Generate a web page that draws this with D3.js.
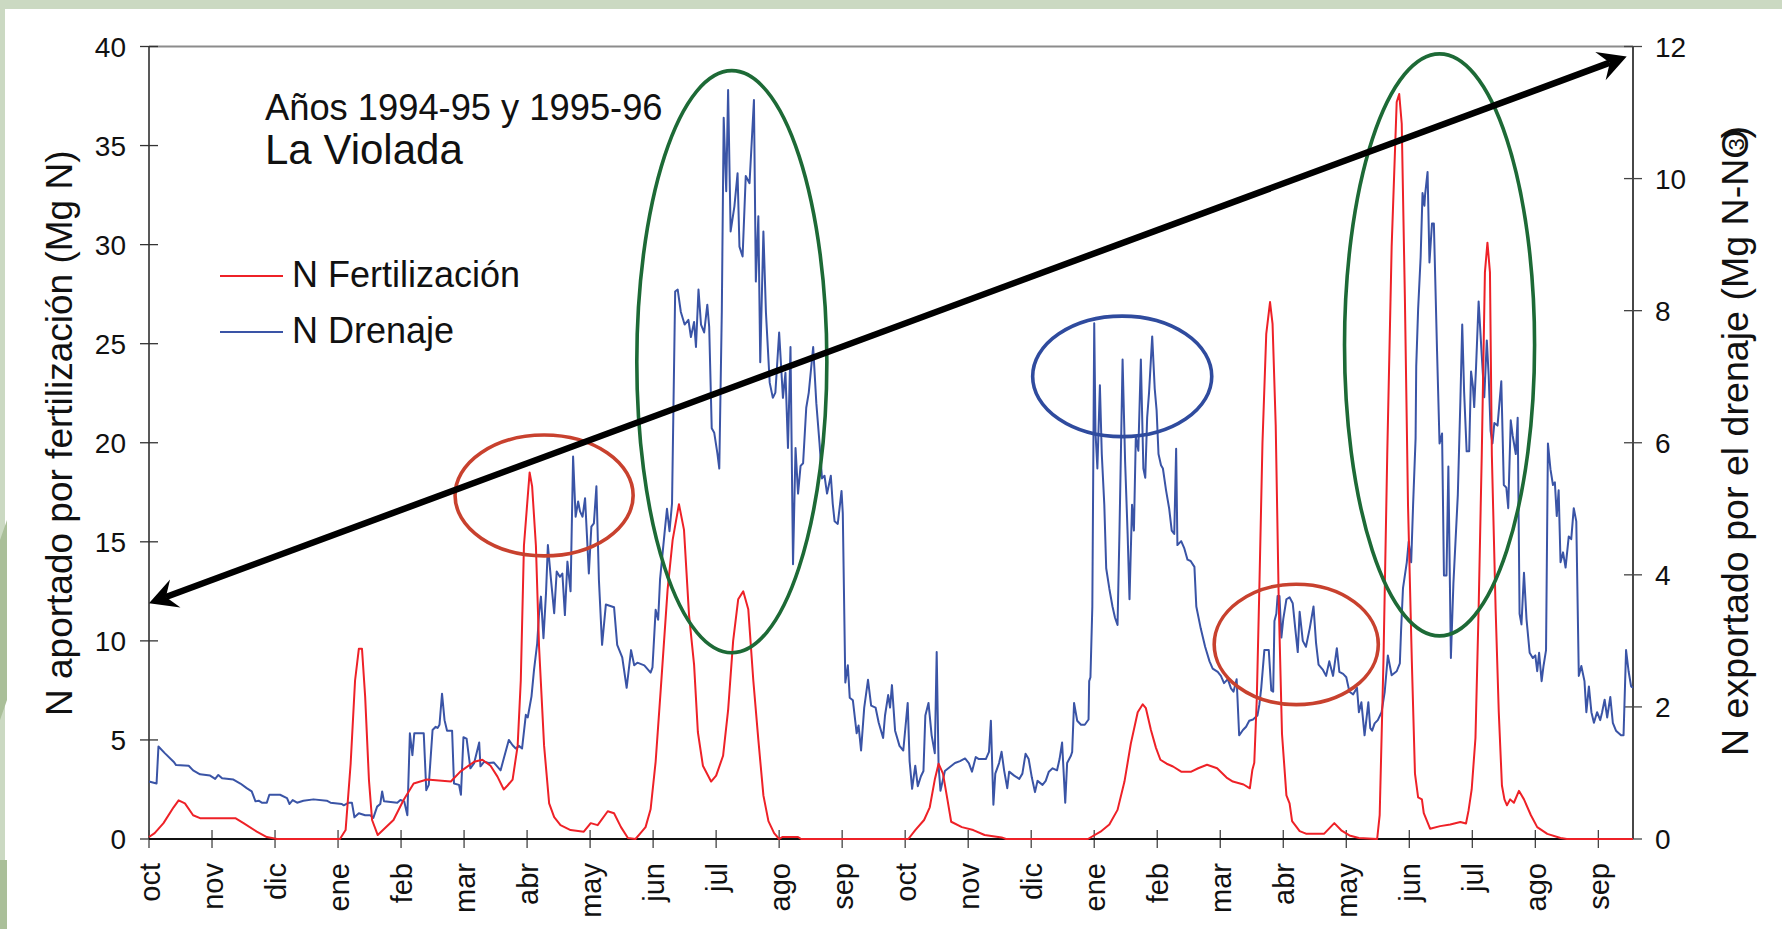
<!DOCTYPE html>
<html><head><meta charset="utf-8">
<script src="https://cdn.jsdelivr.net/npm/d3@7/dist/d3.min.js"></script>
<style>
html,body{margin:0;padding:0;background:#fff;}
svg{display:block;font-family:"Liberation Sans",Arial,Helvetica,sans-serif;}
</style></head>
<body><svg id="c" width="1782" height="929"></svg>
<script>
// ---------- data ----------
const monthNames = ['oct','nov','dic','ene','feb','mar','abr','may','jun','jul','ago','sep'];
const monthTicks = d3.range(24);                 // month index from Oct 1994
const leftTicks = [0,5,10,15,20,25,30,35,40];
const rightTicks = [0,2,4,6,8,10,12];
const titleLine1 = 'Años 1994-95 y 1995-96';
const titleLine2 = 'La Violada';
const seriesNames = ['N Fertilización','N Drenaje'];

// [month index, Mg N]  (left axis)
const fertilizacion = [
[0,0.1],[0.09,0.3],[0.23,0.8],[0.39,1.6],[0.47,1.95],[0.57,1.8],[0.7,1.2],[0.81,1.05],[1.37,1.05],[1.5,0.8],[1.71,0.37],[1.87,0.1],[2.03,0],[3.03,0],[3.12,0.45],[3.2,3.8],[3.27,8.0],[3.33,9.6],[3.38,9.6],[3.43,7.2],[3.49,3.0],[3.54,0.96],[3.63,0.2],[3.73,0.5],[3.88,0.96],[4.04,1.97],[4.2,2.8],[4.41,3.0],[4.79,2.9],[4.94,3.4],[5.16,3.9],[5.29,4.0],[5.42,3.7],[5.53,3.15],[5.63,2.5],[5.69,2.7],[5.77,3.0],[5.85,4.7],[5.9,8.0],[5.95,14.8],[6.04,18.5],[6.08,17.8],[6.14,14.8],[6.19,9.7],[6.27,4.7],[6.35,1.8],[6.43,1.1],[6.53,0.7],[6.69,0.45],[6.9,0.37],[7.01,0.8],[7.12,0.7],[7.28,1.4],[7.38,1.3],[7.49,0.6],[7.6,0.05],[7.72,0],[7.8,0.3],[7.88,0.6],[7.96,1.5],[8.04,3.9],[8.12,7.5],[8.23,12.6],[8.31,15.1],[8.41,16.9],[8.49,15.6],[8.57,11.3],[8.65,8.8],[8.71,5.4],[8.79,3.7],[8.92,2.9],[9.0,3.2],[9.11,4.2],[9.19,6.5],[9.27,10],[9.35,12.1],[9.43,12.5],[9.51,11.6],[9.59,8.0],[9.67,5.0],[9.75,2.2],[9.83,0.9],[9.92,0.3],[10.0,0],[10.05,0.1],[10.3,0.1],[10.35,0],
[12.05,0],[12.16,0.45],[12.3,0.96],[12.39,1.6],[12.47,3.0],[12.53,3.8],[12.6,3.3],[12.67,2.0],[12.73,0.87],[12.9,0.6],[13.08,0.45],[13.26,0.2],[13.53,0.08],[13.6,0],[14.9,0],[15.1,0.37],[15.24,0.73],[15.37,1.47],[15.48,2.9],[15.58,4.8],[15.69,6.4],[15.77,6.8],[15.82,6.6],[15.9,5.5],[15.98,4.6],[16.05,4.0],[16.15,3.8],[16.25,3.66],[16.38,3.4],[16.54,3.4],[16.65,3.57],[16.79,3.75],[16.95,3.57],[17.1,3.1],[17.2,2.9],[17.37,2.75],[17.47,2.56],[17.51,3.5],[17.54,3.85],[17.58,7.1],[17.62,12.6],[17.67,20],[17.73,25.5],[17.79,27.1],[17.83,26],[17.88,20.9],[17.93,11.7],[17.98,5.3],[18.05,2.2],[18.1,1.8],[18.14,0.9],[18.26,0.4],[18.36,0.27],[18.65,0.27],[18.81,0.8],[18.92,0.44],[19.05,0.18],[19.2,0.05],[19.49,0],[19.53,1.2],[19.59,9],[19.65,19.4],[19.72,29.9],[19.8,37.2],[19.84,37.6],[19.88,36.1],[19.93,27.3],[19.98,16.8],[20.04,9],[20.09,3.3],[20.14,2.1],[20.2,2.0],[20.23,1.3],[20.33,0.52],[20.49,0.65],[20.65,0.73],[20.81,0.86],[20.9,0.78],[20.94,1.43],[20.99,2.5],[21.05,5.1],[21.1,11.6],[21.15,19.4],[21.2,28.6],[21.24,30.1],[21.28,28.6],[21.31,19.4],[21.37,11.6],[21.42,6.4],[21.47,2.7],[21.51,2.0],[21.55,1.7],[21.6,2.0],[21.66,1.83],[21.74,2.43],[21.82,2.0],[21.93,1.2],[22.03,0.6],[22.19,0.26],[22.4,0.05],[22.5,0],[23.55,0]
];

// [month index, Mg N-NO3-]  (right axis)
const drenaje = [
[0.0,0.87],[0.12,0.84],[0.15,1.40],[0.25,1.30],[0.39,1.17],[0.43,1.12],[0.63,1.11],[0.7,1.04],[0.81,0.98],[0.97,0.96],[1.05,0.91],[1.1,0.97],[1.16,0.92],[1.34,0.9],[1.45,0.84],[1.55,0.77],[1.63,0.72],[1.69,0.57],[1.74,0.58],[1.79,0.55],[1.87,0.55],[1.91,0.67],[2.08,0.67],[2.19,0.62],[2.23,0.53],[2.28,0.59],[2.35,0.55],[2.45,0.58],[2.61,0.6],[2.82,0.58],[2.88,0.55],[3.06,0.53],[3.09,0.51],[3.17,0.55],[3.22,0.55],[3.26,0.33],[3.33,0.39],[3.43,0.36],[3.51,0.36],[3.56,0.32],[3.62,0.49],[3.67,0.53],[3.7,0.72],[3.73,0.57],[3.94,0.55],[3.99,0.59],[4.05,0.57],[4.1,0.36],[4.14,1.6],[4.18,1.27],[4.21,1.6],[4.36,1.6],[4.4,0.74],[4.44,0.82],[4.5,1.65],[4.55,1.7],[4.58,1.68],[4.61,1.73],[4.65,2.2],[4.69,1.8],[4.73,1.64],[4.81,1.64],[4.84,0.84],[4.92,0.82],[4.95,0.67],[4.99,1.54],[5.04,1.52],[5.1,1.07],[5.16,1.15],[5.24,1.46],[5.26,1.1],[5.32,1.17],[5.39,1.15],[5.47,1.16],[5.58,1.04],[5.63,1.22],[5.71,1.5],[5.77,1.42],[5.82,1.37],[5.87,1.41],[5.92,1.37],[5.98,1.88],[6.01,1.84],[6.07,2.16],[6.11,2.56],[6.16,2.96],[6.19,3.42],[6.22,3.67],[6.26,3.04],[6.3,3.72],[6.33,4.45],[6.38,3.92],[6.43,3.42],[6.47,4.05],[6.52,3.97],[6.56,4.02],[6.6,3.39],[6.64,4.2],[6.69,3.75],[6.73,5.79],[6.77,4.88],[6.81,5.11],[6.84,4.96],[6.88,4.88],[6.92,5.16],[6.98,4.02],[7.02,4.73],[7.06,4.78],[7.1,5.34],[7.14,3.92],[7.19,2.94],[7.25,3.55],[7.38,3.51],[7.43,2.94],[7.51,2.75],[7.58,2.29],[7.65,2.86],[7.7,2.63],[7.75,2.67],[7.86,2.63],[7.96,2.52],[7.99,2.6],[8.04,3.47],[8.08,3.32],[8.11,3.93],[8.18,4.62],[8.22,5.0],[8.26,4.66],[8.3,5.08],[8.35,8.29],[8.39,8.32],[8.44,7.98],[8.5,7.79],[8.56,7.86],[8.6,7.6],[8.65,7.83],[8.68,7.45],[8.72,8.32],[8.76,7.79],[8.81,7.67],[8.86,8.09],[8.89,7.75],[8.93,6.22],[8.97,6.15],[9.02,5.84],[9.05,5.61],[9.09,7.98],[9.12,10.92],[9.16,9.81],[9.19,11.34],[9.23,9.2],[9.29,9.58],[9.34,10.08],[9.37,8.97],[9.42,8.82],[9.47,10.04],[9.53,9.93],[9.6,11.19],[9.63,8.44],[9.67,9.43],[9.7,7.22],[9.75,9.2],[9.79,7.98],[9.85,6.91],[9.9,6.68],[9.94,6.76],[10.0,7.67],[10.06,6.68],[10.1,7.06],[10.14,5.92],[10.18,7.45],[10.22,4.16],[10.26,5.92],[10.3,5.23],[10.34,5.65],[10.38,5.69],[10.43,6.53],[10.47,6.76],[10.54,7.45],[10.59,6.6],[10.64,6.0],[10.68,5.46],[10.72,5.5],[10.76,5.23],[10.82,5.5],[10.85,5.08],[10.88,4.81],[10.93,4.77],[10.99,5.27],[11.01,4.93],[11.05,2.37],[11.09,2.63],[11.12,2.14],[11.17,2.1],[11.23,1.6],[11.26,1.72],[11.3,1.34],[11.35,1.99],[11.41,2.41],[11.46,2.02],[11.53,1.99],[11.58,1.76],[11.65,1.53],[11.68,1.87],[11.73,2.18],[11.76,1.99],[11.79,2.33],[11.84,1.64],[11.91,1.41],[11.97,1.34],[12.04,2.06],[12.07,1.18],[12.11,0.76],[12.16,1.11],[12.2,0.8],[12.25,0.95],[12.29,1.03],[12.32,1.87],[12.37,2.06],[12.42,1.57],[12.47,1.3],[12.5,2.83],[12.53,1.11],[12.56,0.73],[12.63,1.03],[12.79,1.15],[12.87,1.18],[12.95,1.22],[13.01,1.15],[13.06,1.02],[13.12,1.24],[13.17,1.21],[13.28,1.21],[13.33,1.32],[13.36,1.79],[13.4,0.52],[13.43,0.99],[13.49,1.15],[13.53,1.32],[13.57,1.04],[13.62,0.77],[13.65,1.02],[13.73,0.96],[13.81,0.91],[13.86,0.99],[13.91,1.29],[13.96,1.21],[14.01,0.93],[14.06,0.71],[14.1,0.88],[14.18,0.82],[14.23,0.88],[14.28,1.02],[14.34,1.07],[14.41,1.04],[14.45,1.21],[14.49,1.46],[14.54,0.55],[14.57,1.15],[14.63,1.26],[14.65,1.32],[14.68,2.06],[14.73,1.79],[14.79,1.73],[14.85,1.73],[14.91,1.81],[14.92,2.39],[14.94,2.45],[14.97,3.52],[15.0,7.81],[15.02,6.16],[15.05,5.61],[15.09,6.87],[15.12,5.83],[15.16,5.06],[15.19,4.1],[15.24,3.79],[15.29,3.52],[15.33,3.35],[15.37,3.24],[15.4,4.62],[15.45,7.26],[15.49,5.72],[15.53,4.62],[15.56,3.63],[15.6,5.06],[15.63,4.67],[15.66,6.1],[15.7,5.88],[15.74,7.26],[15.78,5.61],[15.81,5.47],[15.84,6.38],[15.87,6.76],[15.92,7.61],[15.96,6.82],[15.99,6.49],[16.02,5.83],[16.06,5.66],[16.09,5.61],[16.14,5.28],[16.19,5.0],[16.23,4.67],[16.27,4.62],[16.3,5.91],[16.32,4.45],[16.38,4.51],[16.43,4.4],[16.48,4.23],[16.53,4.21],[16.59,4.12],[16.62,3.52],[16.69,3.19],[16.76,2.91],[16.83,2.69],[16.88,2.58],[16.96,2.53],[17.01,2.47],[17.06,2.36],[17.12,2.42],[17.17,2.28],[17.21,2.23],[17.26,2.42],[17.3,1.57],[17.36,1.65],[17.41,1.7],[17.46,1.79],[17.52,1.81],[17.59,1.87],[17.62,2.03],[17.65,2.28],[17.7,2.86],[17.77,2.86],[17.81,2.25],[17.84,2.23],[17.86,3.3],[17.89,3.41],[17.91,3.68],[17.94,3.68],[17.97,3.05],[18.0,3.33],[18.05,3.63],[18.1,3.66],[18.15,3.57],[18.19,3.19],[18.23,2.83],[18.26,3.44],[18.31,3.0],[18.36,2.91],[18.42,3.19],[18.48,3.52],[18.52,2.97],[18.56,2.64],[18.63,2.56],[18.68,2.47],[18.73,2.69],[18.79,2.47],[18.85,2.89],[18.89,2.53],[18.95,2.5],[19.0,2.45],[19.05,2.23],[19.11,2.19],[19.17,2.29],[19.2,1.92],[19.24,2.07],[19.29,1.57],[19.35,2.07],[19.38,1.68],[19.41,1.64],[19.45,1.75],[19.5,1.8],[19.56,1.92],[19.61,2.23],[19.66,2.78],[19.72,2.48],[19.8,2.54],[19.85,2.66],[19.87,3.17],[19.9,3.8],[19.96,4.19],[19.99,4.5],[20.03,4.19],[20.06,5.05],[20.1,6.07],[20.11,7.16],[20.14,8.02],[20.18,8.81],[20.21,9.78],[20.24,9.59],[20.25,9.75],[20.29,10.1],[20.32,8.73],[20.36,9.32],[20.39,9.32],[20.44,7.4],[20.48,5.99],[20.52,6.14],[20.55,3.99],[20.59,3.99],[20.62,5.64],[20.66,2.74],[20.7,3.87],[20.77,5.21],[20.81,6.61],[20.84,7.79],[20.87,6.77],[20.91,5.87],[20.95,5.87],[20.98,7.08],[21.01,6.85],[21.03,6.54],[21.06,7.16],[21.1,8.14],[21.15,7.32],[21.19,6.69],[21.23,7.55],[21.26,7.01],[21.29,6.18],[21.32,5.99],[21.35,6.3],[21.4,6.26],[21.46,6.93],[21.5,5.36],[21.54,5.32],[21.57,5.01],[21.61,6.34],[21.64,6.11],[21.69,5.83],[21.72,6.38],[21.75,3.41],[21.78,3.25],[21.82,4.03],[21.86,3.33],[21.91,2.82],[21.96,2.74],[22.0,2.78],[22.03,2.54],[22.06,2.82],[22.1,2.39],[22.13,2.62],[22.17,2.86],[22.2,5.99],[22.24,5.6],[22.28,5.36],[22.31,5.4],[22.34,4.89],[22.37,5.28],[22.4,4.19],[22.44,4.34],[22.48,4.11],[22.53,4.58],[22.57,4.54],[22.61,5.01],[22.65,4.81],[22.69,2.47],[22.73,2.62],[22.78,2.39],[22.81,1.92],[22.85,2.31],[22.89,1.92],[22.93,1.76],[22.98,1.92],[23.03,1.8],[23.06,1.92],[23.1,2.11],[23.14,1.84],[23.19,2.15],[23.23,1.76],[23.28,1.64],[23.36,1.57],[23.4,1.57],[23.44,2.86],[23.48,2.54],[23.52,2.31],[23.55,2.29]
];

// annotation ellipses in data units: [centre month, centre Mg N (left), half-width months, half-height Mg N]
const ellipseRed1   = [6.27, 17.34, 1.413, 3.05];
const ellipseGreen1 = [9.249, 24.09, 1.508, 14.69];
const ellipseBlue   = [15.444, 23.35, 1.421, 3.04];
const ellipseRed2   = [18.206, 9.82, 1.302, 3.04];
const ellipseGreen2 = [20.48, 24.94, 1.508, 14.69];
const arrowEnds = [[0.0, 11.9],[23.45, 39.5]];

// ---------- drawing ----------
const svg = d3.select('#c');
const W = 1782, H = 929;
const x = d3.scaleLinear().domain([0, 23.55]).range([149, 1633]);
const yL = d3.scaleLinear().domain([0, 40]).range([839, 46.5]);
const yR = d3.scaleLinear().domain([0, 12]).range([839, 46.5]);

// page frame
svg.append('rect').attr('x',0).attr('y',0).attr('width',W).attr('height',H).attr('fill','#fff');
svg.append('rect').attr('x',0).attr('y',0).attr('width',W).attr('height',9).attr('fill','#cbd9c2');
svg.append('rect').attr('x',0).attr('y',0).attr('width',5).attr('height',H).attr('fill','#cbd9c2');
svg.append('path').attr('d','M0,540 L7,520 L7,700 L0,720 Z').attr('fill','#aabf99');
svg.append('rect').attr('x',0).attr('y',860).attr('width',7).attr('height',69).attr('fill','#aabf99');

const [x0, x1] = x.range();
const yTop = yL(40), yBot = yL(0);

// top border
svg.append('line').attr('x1',x0).attr('x2',x1).attr('y1',yTop).attr('y2',yTop)
  .attr('stroke','#8c8c8c').attr('stroke-width',2);

// left axis
const gL = svg.append('g');
gL.append('line').attr('x1',x0).attr('x2',x0).attr('y1',yTop).attr('y2',yBot).attr('stroke','#222').attr('stroke-width',1.5);
gL.selectAll('line.t').data(leftTicks).join('line').attr('class','t')
  .attr('x1',x0-9).attr('x2',x0+9).attr('y1',d=>yL(d)).attr('y2',d=>yL(d)).attr('stroke','#333').attr('stroke-width',1.3);
gL.selectAll('text').data(leftTicks).join('text')
  .attr('x',126).attr('y',d=>yL(d)).attr('dy','0.36em').attr('text-anchor','end')
  .attr('font-size',28).attr('fill','#111').text(d=>d);

// right axis
const gR = svg.append('g');
gR.append('line').attr('x1',x1).attr('x2',x1).attr('y1',yTop).attr('y2',yBot).attr('stroke','#333').attr('stroke-width',1.8);
gR.selectAll('line.t').data(rightTicks).join('line').attr('class','t')
  .attr('x1',x1-9).attr('x2',x1+9).attr('y1',d=>yR(d)).attr('y2',d=>yR(d)).attr('stroke','#444').attr('stroke-width',1.3);
gR.selectAll('text').data(rightTicks).join('text')
  .attr('x',1655).attr('y',d=>yR(d)).attr('dy','0.36em').attr('text-anchor','start')
  .attr('font-size',28).attr('fill','#111').text(d=>d);

// bottom axis
const gB = svg.append('g');
gB.selectAll('line.t').data(monthTicks).join('line').attr('class','t')
  .attr('x1',d=>x(d)).attr('x2',d=>x(d)).attr('y1',yBot-9).attr('y2',yBot+9).attr('stroke','#444').attr('stroke-width',1.3);
gB.append('line').attr('x1',x0).attr('x2',x1).attr('y1',yBot).attr('y2',yBot).attr('stroke','#111').attr('stroke-width',2);
gB.selectAll('text').data(monthTicks).join('text')
  .attr('transform',d=>`translate(${x(d)+11},863) rotate(-90)`)
  .attr('text-anchor','end').attr('font-size',29).attr('fill','#111')
  .text(d=>monthNames[d%12]);

// axis titles
svg.append('text').attr('transform','translate(72,716) rotate(-90)')
  .attr('font-size',37).attr('fill','#111')
  .text('N aportado por fertilización (Mg N)');
const rt = svg.append('text').attr('transform','translate(1748,756) rotate(-90)')
  .attr('font-size',37.6).attr('fill','#111');
rt.append('tspan').text('N exportado por el drenaje (Mg N-NO');
rt.append('tspan').attr('font-size',22).attr('dx',-21).attr('dy',-4).text('3');
rt.append('tspan').attr('font-size',20).attr('dx',-1).attr('dy',-13).text('-');
rt.append('tspan').attr('dx',-6).attr('dy',17).text(')');

// series
const line = yS => d3.line().x(d=>x(d[0])).y(d=>yS(d[1]));
svg.append('path').datum(drenaje).attr('d',line(yR))
  .attr('fill','none').attr('stroke','#3a54a6').attr('stroke-width',2).attr('stroke-linejoin','round');
svg.append('path').datum(fertilizacion).attr('d',line(yL))
  .attr('fill','none').attr('stroke','#ee2127').attr('stroke-width',2).attr('stroke-linejoin','round');

// ellipses
function ell(e, color){
  svg.append('ellipse')
    .attr('cx',x(e[0])).attr('cy',yL(e[1]))
    .attr('rx',x(e[0]+e[2])-x(e[0])).attr('ry',yL(e[1])-yL(e[1]+e[3]))
    .attr('fill','none').attr('stroke',color).attr('stroke-width',3.6);
}
ell(ellipseRed1,'#c8412e');
ell(ellipseGreen1,'#1d6a36');
ell(ellipseBlue,'#2f4b9e');
ell(ellipseRed2,'#c8412e');
ell(ellipseGreen2,'#1d6a36');

// double arrow
const p0 = [x(arrowEnds[0][0]), yL(arrowEnds[0][1])];
const p1 = [x(arrowEnds[1][0]), yL(arrowEnds[1][1])];
const dx = p1[0]-p0[0], dy = p1[1]-p0[1], len = Math.hypot(dx,dy);
const u = [dx/len, dy/len], n = [-u[1], u[0]];
const back = 28, half = 15, notch = 18;
svg.append('line')
  .attr('x1',p0[0]+u[0]*notch).attr('y1',p0[1]+u[1]*notch)
  .attr('x2',p1[0]-u[0]*notch).attr('y2',p1[1]-u[1]*notch)
  .attr('stroke','#000').attr('stroke-width',6.5);
function head(tip, dir){
  const b = [tip[0]+dir[0]*back, tip[1]+dir[1]*back];
  const pts = [tip,
    [b[0]+n[0]*half, b[1]+n[1]*half],
    [tip[0]+dir[0]*notch, tip[1]+dir[1]*notch],
    [b[0]-n[0]*half, b[1]-n[1]*half]];
  svg.append('path').attr('d','M'+pts.map(p=>p.join(',')).join('L')+'Z').attr('fill','#000');
}
head(p0, u);
head(p1, [-u[0],-u[1]]);

// title block
svg.append('text').attr('x',265).attr('y',120).attr('font-size',36.3).attr('fill','#111').text(titleLine1);
svg.append('text').attr('x',265).attr('y',164).attr('font-size',42).attr('fill','#111').text(titleLine2);

// legend
const legY = [276, 332];
const legC = ['#ee2127','#3a54a6'];
seriesNames.forEach((s,i)=>{
  svg.append('line').attr('x1',220).attr('x2',283).attr('y1',legY[i]).attr('y2',legY[i])
    .attr('stroke',legC[i]).attr('stroke-width',2);
  svg.append('text').attr('x',292).attr('y',legY[i]+11).attr('font-size',36).attr('fill','#111').text(s);
});
</script></body></html>
